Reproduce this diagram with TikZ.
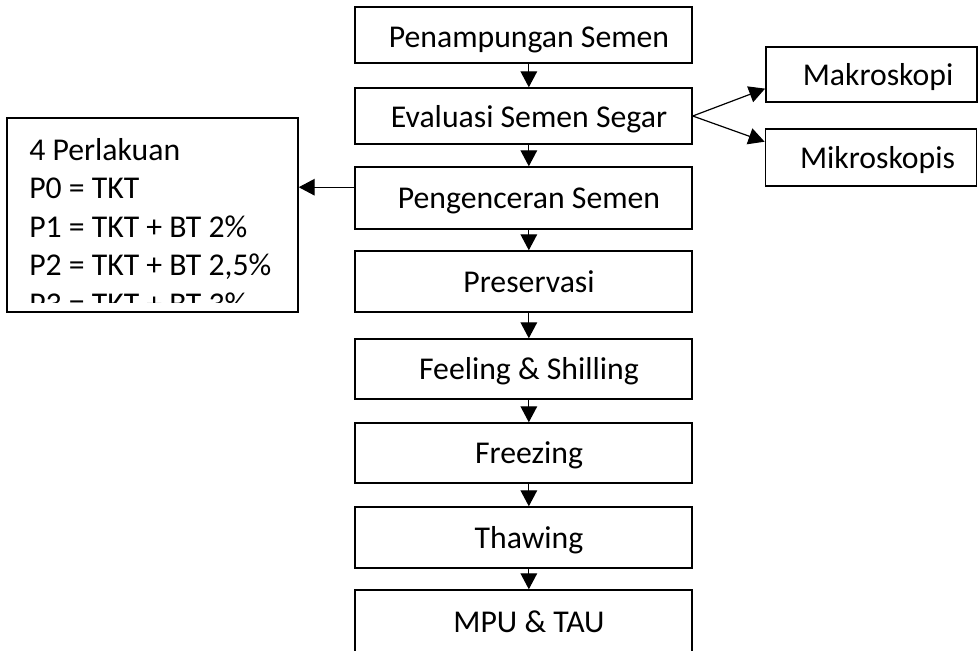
\documentclass[tikz,border=0pt]{standalone}
\usepackage{fontspec}
\setmainfont{Carlito}
\usetikzlibrary{arrows.meta,calc}

\begin{document}
\begin{tikzpicture}[x=0.75pt,y=-0.75pt,
		box/.style={draw,line width=1.1pt,minimum width=252.75pt,inner sep=0pt,
			text height=16pt,text depth=0pt,execute at begin node=\hspace*{8.25pt},
			font=\fontsize{23.8}{28}\selectfont},
		sidebox/.style={draw,line width=1.1pt,minimum width=158.5pt,inner sep=0pt,
			text height=17pt,text depth=0pt,execute at begin node=\hspace*{9.75pt},
			font=\fontsize{23.8}{28}\selectfont},
		arrow/.style={-{Triangle[width=12.5pt,length=12pt]},line width=0.9pt}]
		\useasboundingbox (0,0) rectangle (978,650);
		% alur utama
		\node[box,minimum height=42pt,text height=19pt](penampungan) at (523.5,35){Penampungan Semen};
		\node[box,minimum height=42pt,text height=17.5pt](evaluasi) at (523.5,116){Evaluasi Semen Segar};
		\node[box,minimum height=46.5pt](pengenceran) at (523.5,198){Pengenceran Semen};
		\node[box,minimum height=45.75pt](preservasi) at (523.5,281.5){Preservasi};
		\node[box,minimum height=45pt](feeling) at (523.5,369){Feeling \& Shilling};
		\node[box,minimum height=45pt](freezing) at (523.5,453){Freezing};
		\node[box,minimum height=45.75pt](thawing) at (523.5,537.5){Thawing};
		\node[box,minimum height=48pt](mpu) at (523.5,622){MPU \& TAU};
		% evaluasi
		\node[sidebox,minimum height=41.25pt](makroskopi) at (871.5,74.5){Makroskopi};
		\node[sidebox,minimum height=42.75pt](mikroskopis) at (871,157.5){Mikroskopis};
		% perlakuan
		\node[draw,line width=1.1pt,minimum width=218.25pt,minimum height=145.5pt,inner sep=0pt]
			(perlakuan) at (152.5,215){};
		\begin{scope}
			\clip (7,118) rectangle (298,302);
			\node[anchor=north west,align=left,inner sep=0pt,
				font=\fontsize{23.8}{28.9}\selectfont](perlakuantext) at (29,138)
				{4 Perlakuan\\P0 = TKT\\P1 = TKT + BT 2\%\\P2 = TKT + BT 2,5\%\\P3 = TKT + BT 3\%};
		\end{scope}
		\draw[arrow] ([xshift=4pt]penampungan.south) -- ([xshift=4pt]evaluasi.north);
		\draw[arrow] ([xshift=4pt]evaluasi.south) -- ([xshift=4pt]pengenceran.north);
		\draw[arrow] ([xshift=4pt]pengenceran.south) -- ([xshift=4pt]preservasi.north);
		\draw[arrow] ([xshift=4pt]preservasi.south) -- ([xshift=4pt]feeling.north);
		\draw[arrow] ([xshift=4pt]feeling.south) -- ([xshift=4pt]freezing.north);
		\draw[arrow] ([xshift=4pt]freezing.south) -- ([xshift=4pt]thawing.north);
		\draw[arrow] ([xshift=4pt]thawing.south) -- ([xshift=4pt]mpu.north);
		\draw[arrow] (evaluasi.east) -- ($(makroskopi.south west)!0.25!(makroskopi.north west)$);
		\draw[arrow] (evaluasi.east) -- ($(mikroskopis.north west)!0.23!(mikroskopis.south west)$);
		\coordinate (pk) at ($(pengenceran.north west)!0.33!(pengenceran.south west)$);
		\draw[arrow] (pk) -- (pk -| perlakuan.east);
	\end{tikzpicture}
\end{document}
